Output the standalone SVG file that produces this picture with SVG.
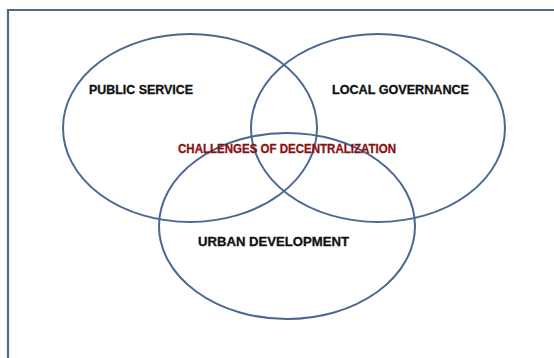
<svg xmlns="http://www.w3.org/2000/svg" width="554" height="358" viewBox="0 0 554 358">
<style>
.ring{fill:none;stroke:#4a6891;stroke-width:2}
.lbl{font-family:"Liberation Sans",Arial,sans-serif;font-weight:bold;font-size:12px;fill:#111;stroke:#111;stroke-width:0.3}
.mid{font-family:"Liberation Sans",Arial,sans-serif;font-weight:bold;font-size:12px;fill:#8a1010;stroke:#8a1010;stroke-width:0.3}
</style>
<rect width="554" height="358" fill="#fff"/>
<path d="M8 358 V10 H554" fill="none" stroke="#4f6a86" stroke-width="2.2"/>
<g id="public-service">
<ellipse class="ring" cx="190" cy="128" rx="127" ry="94"/>
<text class="lbl" x="89" y="94" textLength="104" lengthAdjust="spacingAndGlyphs">PUBLIC SERVICE</text>
</g>
<g id="local-governance">
<ellipse class="ring" cx="378" cy="128" rx="127" ry="94"/>
<text class="lbl" x="332" y="94" textLength="137" lengthAdjust="spacingAndGlyphs">LOCAL GOVERNANCE</text>
</g>
<g id="urban-development">
<ellipse class="ring" cx="287" cy="226" rx="128" ry="93"/>
<text class="lbl" x="198" y="246" textLength="151" lengthAdjust="spacingAndGlyphs">URBAN DEVELOPMENT</text>
</g>
<g id="challenges">
<text class="mid" x="178" y="153" textLength="218" lengthAdjust="spacingAndGlyphs">CHALLENGES OF DECENTRALIZATION</text>
</g>
<g id="connectors"/>
</svg>
